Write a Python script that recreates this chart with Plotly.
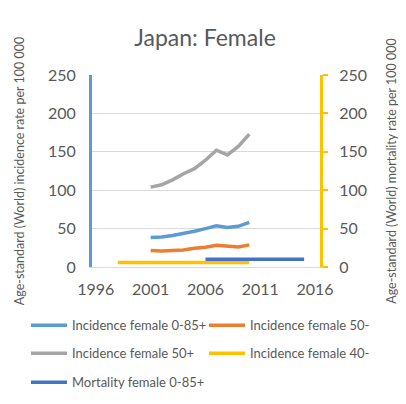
import plotly.graph_objects as go

years_inc = [2001, 2002, 2003, 2004, 2005, 2006, 2007, 2008, 2009, 2010]
inc_all = [38.4, 39, 41, 43.6, 46.6, 50, 53.6, 51.4, 53, 58]
inc_50minus = [21.4, 20.8, 21.4, 22.2, 24.4, 25.7, 28.3, 27.5, 26, 28.8]
inc_50plus = [104, 107, 113.5, 121.5, 128, 139, 152, 146, 157, 173]
years_40 = [1998, 1999, 2000, 2001, 2002, 2003, 2004, 2005, 2006, 2007, 2008, 2009, 2010]
inc_40minus = [6, 6, 6.3, 6.8, 6.3, 6, 6, 6, 6, 6.5, 6.5, 6, 6]
years_mort = [2006, 2007, 2008, 2009, 2010, 2011, 2012, 2013, 2014, 2015]
mort_all = [10, 10, 10, 10, 10, 10, 10, 10, 10, 10]

x_ticks = [1996, 2001, 2006, 2011, 2016]
y_ticks = [0, 50, 100, 150, 200, 250]

FONT = "Lato"
TXT = "#595959"
OFF = 8  # page body margin
W, H = 406, 404
L = 92 - OFF
T = 75 - OFF
R = W - (320 - OFF)
B = H - (267.5 - OFF)
pw, ph = W - L - R, H - T - B

def px2x(px):
    return (px - OFF - L) / pw

def py2y(py):
    return (H - B - (py - OFF)) / ph

fig = go.Figure()
lw = 3.5
fig.add_trace(go.Scatter(x=years_inc, y=inc_all, mode="lines", name="Incidence female 0-85+",
                         line=dict(color="#5B9BD5", width=lw), legend="legend"))
fig.add_trace(go.Scatter(x=years_inc, y=inc_50minus, mode="lines", name="Incidence female 50-",
                         line=dict(color="#ED7D31", width=lw), legend="legend2"))
fig.add_trace(go.Scatter(x=years_inc, y=inc_50plus, mode="lines", name="Incidence female 50+",
                         line=dict(color="#A5A5A5", width=lw), legend="legend3"))
fig.add_trace(go.Scatter(x=years_40, y=inc_40minus, mode="lines", name="Incidence female 40-",
                         line=dict(color="#FFC000", width=lw), legend="legend4"))
fig.add_trace(go.Scatter(x=years_mort, y=mort_all, mode="lines", name="Mortality female 0-85+",
                         line=dict(color="#4472C4", width=lw), legend="legend5", yaxis="y2"))

leg_common = dict(orientation="v", xanchor="left", yanchor="middle",
                  font=dict(family=FONT, size=13, color=TXT),
                  bgcolor="rgba(0,0,0,0)", itemwidth=36)

col1, col2 = 26, 204
fig.update_layout(
    width=W, height=H,
    margin=dict(l=L, r=R, t=T, b=B, autoexpand=False),
    paper_bgcolor="white", plot_bgcolor="white",
    title=dict(text="Japan: Female", x=px2x(205), xref="paper", xanchor="center",
               y=1 - (38 - OFF) / H, yanchor="middle", font=dict(family=FONT, size=23, color=TXT)),
    xaxis=dict(range=[1995.65, 2016.45], tickvals=x_ticks, showgrid=False, zeroline=False,
               showline=True, linecolor="#D9D9D9", linewidth=1, ticks="", automargin=False,
               tickfont=dict(family=FONT, size=16, color=TXT), ticklabelstandoff=8),
    yaxis=dict(range=[0, 250], tickvals=y_ticks, showgrid=True, gridcolor="#D9D9D9", gridwidth=1,
               zeroline=False, showline=True, linecolor="#5B9BD5", linewidth=3, ticks="",
               automargin=False,
               tickfont=dict(family=FONT, size=16, color=TXT), ticklabelstandoff=10,
               title=dict(text="Age-standard (World) incidence rate per 100 000",
                          font=dict(family=FONT, size=12.5, color=TXT), standoff=21)),
    yaxis2=dict(range=[0, 250], tickvals=y_ticks, overlaying="y", side="right", showgrid=False,
                zeroline=False, showline=True, linecolor="#FFC000", linewidth=3,
                ticks="outside", ticklen=5, tickwidth=2, tickcolor="#FFC000", automargin=False,
                tickfont=dict(family=FONT, size=16, color=TXT), ticklabelstandoff=8,
                title=dict(text="Age-standard (World) mortality rate per 100 000",
                           font=dict(family=FONT, size=12.5, color=TXT), standoff=22)),
    legend=dict(x=px2x(col1), y=py2y(326), **leg_common),
    legend2=dict(x=px2x(col2), y=py2y(326), **leg_common),
    legend3=dict(x=px2x(col1), y=py2y(354), **leg_common),
    legend4=dict(x=px2x(col2), y=py2y(354), **leg_common),
    legend5=dict(x=px2x(col1), y=py2y(383), **leg_common),
    showlegend=True,
    shapes=[dict(type="rect", xref="paper", yref="paper", x0=px2x(3), x1=px2x(430),
                 y0=py2y(430), y1=py2y(4), line=dict(color="#D9D9D9", width=1),
                 fillcolor="rgba(0,0,0,0)", layer="below")],
)

fig.write_html("out.html")
